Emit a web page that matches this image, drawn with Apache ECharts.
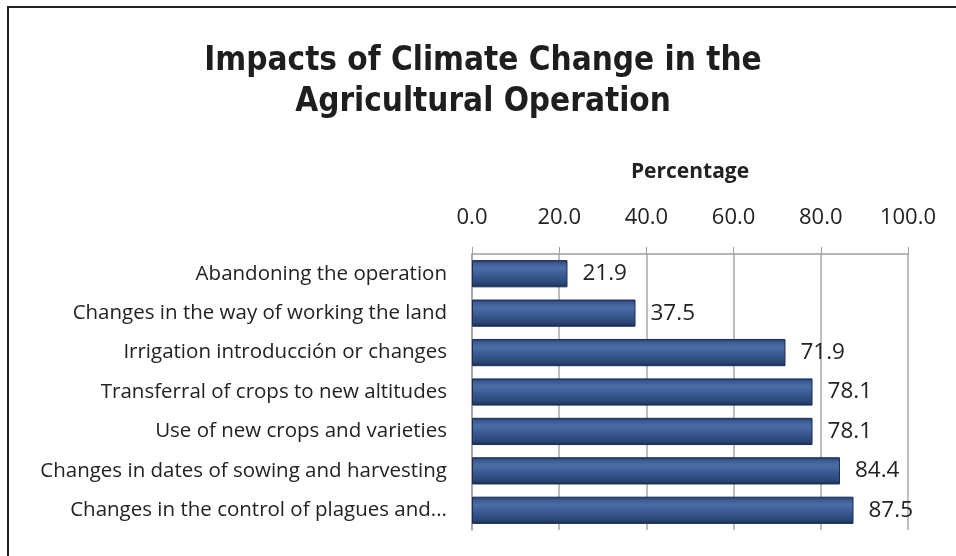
<!DOCTYPE html>
<html>
<head>
<meta charset="utf-8">
<style>
  html, body { margin: 0; padding: 0; background: #fff; }
  #chart { width: 956px; height: 556px; }
</style>
<script src="https://cdn.jsdelivr.net/npm/echarts@6/dist/echarts.min.js"></script>
</head>
<body>
<div id="chart"></div>
<script>
// Share of producers reporting each change, top to bottom
const categories = [
  'Abandoning the operation',
  'Changes in the way of working the land',
  'Irrigation introducción or changes',
  'Transferral of crops to new altitudes',
  'Use of new crops and varieties',
  'Changes in dates of sowing and harvesting',
  'Changes in the control of plagues and...'
];
const percentages = [21.9, 37.5, 71.9, 78.1, 78.1, 84.4, 87.5];

const chart = echarts.init(document.getElementById('chart'));

const textFont = '"Open Sans", "Noto Sans", sans-serif';

// Bevelled navy fill for the bars
const barFill = new echarts.graphic.LinearGradient(0, 0, 0, 1, [
  { offset: 0, color: '#20386a' },
  { offset: 0.12, color: '#3c5b94' },
  { offset: 0.3, color: '#4c6ea8' },
  { offset: 0.55, color: '#3a5a92' },
  { offset: 0.85, color: '#2b4777' },
  { offset: 1, color: '#1a2d52' }
]);

chart.setOption({
  backgroundColor: '#ffffff',
  animation: false,
  title: {
    text: 'Impacts of Climate Change in the\nAgricultural Operation',
    left: 478,
    top: 36,
    textAlign: 'center',
    textStyle: {
      fontFamily: '"Liberation Sans Narrow", "DejaVu Sans Condensed", "Noto Sans", sans-serif',
      fontWeight: 'bold',
      fontSize: 33,
      lineHeight: 41,
      color: '#1e1e1e'
    }
  },
  graphic: [
    {
      type: 'polyline',
      shape: { points: [[8, 556], [8, 7], [956, 7]] },
      style: { stroke: '#222222', lineWidth: 2, fill: null }
    }
  ],
  grid: { left: 472, right: 48, top: 254, bottom: 26 },
  xAxis: {
    type: 'value',
    position: 'top',
    min: 0,
    max: 100,
    interval: 20,
    name: 'Percentage',
    nameLocation: 'middle',
    nameGap: 71,
    nameTextStyle: {
      fontFamily: textFont,
      fontWeight: 'bold',
      fontSize: 21,
      color: '#222222'
    },
    axisLine: { show: true, lineStyle: { color: '#a0a0a0', width: 1.5 } },
    axisTick: { show: true, length: 7, lineStyle: { color: '#a0a0a0' } },
    axisLabel: {
      margin: 25,
      fontFamily: textFont,
      fontSize: 22,
      color: '#222222',
      formatter: v => v.toFixed(1)
    },
    splitLine: { show: true, lineStyle: { color: '#a8a8a8', width: 1.5 } }
  },
  yAxis: {
    type: 'category',
    data: categories,
    inverse: true,
    axisLine: { show: true, lineStyle: { color: '#a0a0a0', width: 1.5 } },
    axisTick: { show: false },
    axisLabel: {
      margin: 25,
      fontFamily: textFont,
      fontSize: 20.5,
      color: '#222222'
    }
  },
  series: [
    {
      type: 'bar',
      data: percentages,
      barCategoryGap: '31%',
      itemStyle: {
        color: barFill,
        borderColor: '#1b2d50',
        borderWidth: 1
      },
      label: {
        show: true,
        position: 'right',
        distance: 15,
        fontFamily: textFont,
        fontSize: 22.5,
        color: '#222222',
        formatter: p => p.value.toFixed(1)
      }
    }
  ]
});
</script>
</body>
</html>
